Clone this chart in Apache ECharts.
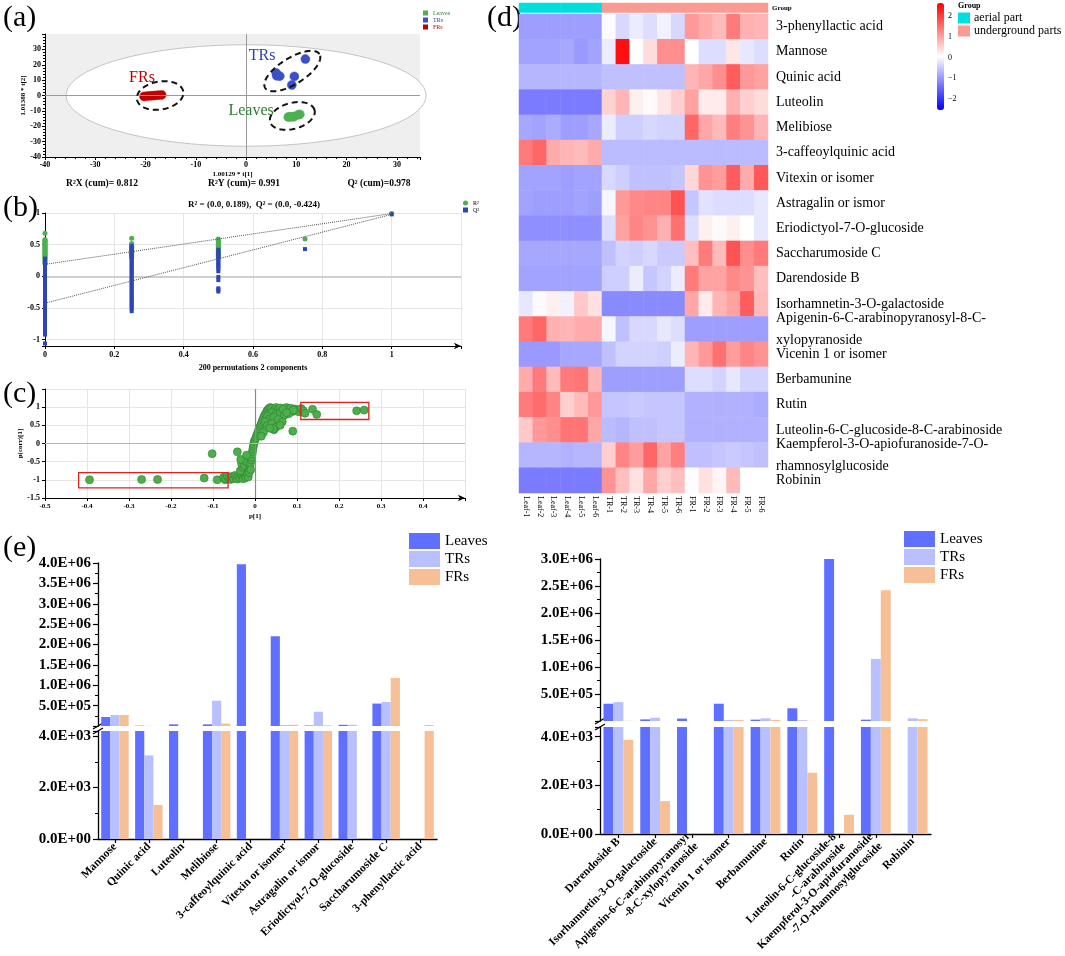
<!DOCTYPE html>
<html><head><meta charset="utf-8">
<script src="https://cdn.jsdelivr.net/npm/echarts@6/dist/echarts.min.js"></script>
<style>html,body{margin:0;padding:0;background:#fff}#c{width:1065px;height:956px}</style>
</head><body><div id="c"></div>
<script>
const SERIF = 'Liberation Serif';

// ---------- (a) PLS-DA score plot ----------
const scoreFRs = [[-20.3,-0.6],[-19.6,-0.4],[-18.9,-0.2],[-18.2,0.0],[-17.5,0.2],[-16.8,0.4]];
const scoreTRs = [[6.0,14.6],[6.1,12.8],[6.7,12.6],[9.6,12.4],[9.1,6.8],[11.8,23.7]];
const scoreLeaves = [[8.4,-14.0],[8.8,-13.8],[9.3,-13.9],[9.6,-13.6],[10.4,-12.5],[10.7,-12.3]];
const hotelling = [[0, 0, 35.8, 33]];
const clusterRingCenters = [[-17.1, 0.0], [9.2, 15.9], [9.2, -13.3]];
const clusterRingShape = [{a:23.5,b:14,rot:10},{a:32,b:13,rot:32},{a:23,b:13,rot:15}];
const clusterLabels = [
  {name:'FRs', value:[-20.7, 11.2], color:'#C00000'},
  {name:'TRs', value:[3.2, 25.5], color:'#2F3FB0'},
  {name:'Leaves', value:[1.0, -10.2], color:'#2E7D32'}
];
const r2X = 0.812, r2Y = 0.991, q2cum = 0.978;

// ---------- (b) permutation test ----------
const permX = [0, 0.25, 0.5, 0.75, 1];
const permR2 = [
  [0.68,0.58,0.57,0.56,0.54,0.53,0.51,0.5,0.48,0.47,0.45,0.44,0.42,0.41,0.39,0.38,0.36,0.35,0.33,0.32,0.3,0.29,0.27,0.25,0.23,0.21,0.2],
  [0.6,0.52,0.5,0.48,0.46,0.44,0.42,0.4,0.38,0.36,0.34,0.32,0.3],
  [0.59,0.57,0.55,0.53,0.51,0.49,0.47,0.45,0.43,0.41,0.39,0.37,0.35,0.33,0.31,0.29],
  [0.59],
  [0.991]
];
const permQ2 = [
  [0.28,0.26,0.24,0.22,0.2,0.18,0.16,0.14,0.12,0.1,0.08,0.06,0.04,0.02,0.0,-0.02,-0.04,-0.06,-0.08,-0.1,-0.12,-0.14,-0.16,-0.18,-0.2,-0.22,-0.24,-0.26,-0.28,-0.3,-0.32,-0.34,-0.36,-0.38,-0.4,-0.42,-0.44,-0.46,-0.48,-0.5,-0.52,-0.54,-0.56,-0.58,-0.6,-0.62,-0.64,-0.66,-0.68,-0.7,-0.72,-0.74,-0.76,-0.78,-0.8,-0.82,-0.84,-0.86,-0.88,-0.9,-0.92,-1.06],
  [0.48,0.45,0.42,0.39,0.36,0.33,0.3,0.27,0.24,0.21,0.18,0.15,0.12,0.09,0.06,0.03,0.0,-0.03,-0.06,-0.09,-0.12,-0.15,-0.18,-0.21,-0.24,-0.27,-0.3,-0.33,-0.36,-0.39,-0.42,-0.45,-0.48,-0.51,-0.55],
  [0.42,0.39,0.36,0.33,0.3,0.27,0.24,0.21,0.18,0.15,0.12,0.08,-0.01,-0.06,-0.19,-0.21,-0.24],
  [0.43],
  [0.978]
];
const r2Intercept = 0.189, q2Intercept = -0.424;

// ---------- (c) S-plot ----------
const sPlotPoints = [
  [-0.394,-1.0],[-0.27,-0.99],[-0.232,-0.99],[-0.121,-0.95],[-0.09,-1.0],[-0.071,-1.0],
  [-0.075,-0.93],[-0.07,-0.97],[-0.066,-0.9],[-0.062,-0.95],[-0.058,-0.99],[-0.055,-0.91],[-0.051,-0.96],
  [-0.048,-0.88],[-0.045,-0.93],[-0.042,-0.98],[-0.039,-0.9],[-0.036,-0.95],[-0.033,-0.86],[-0.03,-0.92],
  [-0.028,-0.97],[-0.026,-0.83],[-0.024,-0.89],[-0.022,-0.94],[-0.02,-0.78],[-0.018,-0.86],[-0.016,-0.92],
  [-0.015,-0.7],[-0.014,-0.8],[-0.035,-0.75],[-0.03,-0.65],[-0.032,-0.55],[-0.025,-0.6],[-0.028,-0.45],
  [-0.02,-0.5],[-0.012,-0.62],[-0.011,-0.55],[-0.01,-0.72],[-0.009,-0.45],[-0.008,-0.38],[-0.007,-0.3],
  [-0.006,-0.22],[-0.005,-0.15],[-0.004,-0.08],[-0.003,-0.02],[-0.002,0.05],[0.0,0.1],[0.002,0.16],
  [0.004,0.22],[0.006,0.28],[0.008,0.34],[0.01,0.4],[0.012,0.46],[0.014,0.52],[0.016,0.58],[0.018,0.64],
  [0.02,0.7],[0.022,0.76],[0.025,0.82],[0.028,0.88],[0.03,0.92],[0.033,0.96],[0.036,0.99],
  [0.04,0.97],[0.045,0.92],[0.05,0.99],[0.055,0.94],[0.06,0.98],[0.065,0.9],[0.07,0.96],[0.075,0.99],
  [0.08,0.93],[0.085,0.97],[0.09,0.88],[0.095,0.95],[0.1,0.92],[0.105,0.87],[0.11,0.96],[0.115,0.9],
  [0.04,0.85],[0.05,0.8],[0.06,0.84],[0.07,0.78],[0.08,0.82],[0.03,0.75],[0.035,0.68],[0.045,0.72],
  [0.055,0.66],[0.065,0.6],[0.025,0.6],[0.03,0.5],[0.04,0.55],[0.05,0.45],[0.06,0.5],[0.045,0.38],
  [0.044,0.4],[0.09,0.34],[0.035,0.42],[0.02,0.3],[0.015,0.2],
  [0.119,0.83],[0.137,0.94],[0.147,0.8],[0.091,0.92],[0.067,0.94],[0.075,0.85],[0.242,0.9],[0.26,0.92],
  [-0.102,-0.28],[-0.042,-0.23],[-0.034,-0.44],[-0.02,-0.32]
];
const sPlotBoxes = [[-0.42,-1.22,-0.064,-0.8],[0.109,0.66,0.271,1.13]];

// ---------- (d) heatmap ----------
const heatCols = ['Leaf-1','Leaf-2','Leaf-3','Leaf-4','Leaf-5','Leaf-6','TR-1','TR-2','TR-3','TR-4','TR-5','TR-6','FR-1','FR-2','FR-3','FR-4','FR-5','FR-6'];
const heatGroups = [0,0,0,0,0,0,1,1,1,1,1,1,1,1,1,1,1,1];
const groupNames = ['aerial part','underground parts'];
const heatRows = ['3-phenyllactic acid','Mannose','Quinic acid','Luteolin','Melibiose','3-caffeoylquinic acid','Vitexin or isomer','Astragalin or ismor','Eriodictyol-7-O-glucoside','Saccharumoside C','Darendoside B','Isorhamnetin-3-O-galactoside','Apigenin-6-C-arabinopyranosyl-8-C-\nxylopyranoside','Vicenin 1 or isomer','Berbamunine','Rutin','Luteolin-6-C-glucoside-8-C-arabinoside','Kaempferol-3-O-apiofuranoside-7-O-\nrhamnosylglucoside','Robinin'];
const heatValues = [
  [-0.95,-0.95,-0.95,-0.95,-0.95,-0.95, 0.0,-0.35,-0.15,-0.3,-0.1,-0.35, 1.1,0.9,0.75,1.4,0.85,0.8],
  [-0.9,-0.9,-0.9,-0.85,-1.0,-0.9, -0.15,2.5,0.05,0.4,1.2,1.2, 0.05,-0.3,-0.3,0.3,-0.2,-0.3],
  [-0.7,-0.7,-0.7,-0.7,-0.7,-0.7, -0.6,-0.6,-0.6,-0.6,-0.6,-0.6, 0.8,0.95,1.2,1.7,1.1,1.0],
  [-1.3,-1.3,-1.3,-1.3,-1.3,-1.3, 0.5,0.8,0.2,0.1,0.3,0.55, 1.0,0.25,0.25,0.85,0.55,0.4],
  [-0.85,-0.9,-0.8,-0.95,-0.95,-0.85, -0.15,-0.45,-0.45,-0.35,-0.4,-0.4, 1.6,0.95,0.75,1.35,1.15,0.8],
  [1.4,1.6,0.9,0.8,0.75,0.9, -0.65,-0.65,-0.65,-0.65,-0.65,-0.65, -0.65,-0.65,-0.65,-0.65,-0.65,-0.65],
  [-0.9,-0.9,-0.9,-0.95,-0.9,-0.9, -0.35,-0.45,-0.6,-0.6,-0.6,-0.55, 0.45,1.15,1.05,1.7,0.9,1.75],
  [-0.9,-0.95,-0.95,-0.95,-0.9,-0.95, -0.05,1.1,1.25,1.3,1.3,1.8, -0.55,-0.25,-0.3,-0.3,-0.3,-0.2],
  [-1.1,-1.1,-1.1,-1.1,-1.1,-1.1, -0.3,1.0,1.3,1.15,0.85,1.5, -0.3,0.2,0.1,0.2,0.05,-0.2],
  [-0.85,-0.85,-0.85,-0.85,-0.85,-0.85, -0.6,-0.4,-0.45,-0.35,-0.5,-0.5, 0.7,1.4,0.75,1.8,1.2,1.4],
  [-0.9,-0.9,-0.9,-0.9,-0.9,-0.9, -0.45,-0.45,-0.15,-0.55,-0.4,-0.15, 1.4,1.0,1.0,1.25,1.15,0.7],
  [-0.2,0.0,0.2,-0.1,0.6,0.35, -1.15,-1.15,-1.15,-1.15,-1.15,-1.15, 0.95,0.25,0.8,1.0,1.7,0.75],
  [1.4,1.6,0.85,0.8,0.9,0.9, -0.05,-0.6,-0.35,-0.35,-0.2,-0.3, -0.95,-0.95,-0.95,-0.95,-0.95,-0.95],
  [-1.0,-1.0,-1.0,-0.85,-0.85,-0.85, -0.6,-0.4,-0.4,-0.4,-0.45,-0.15, 0.8,1.1,1.5,1.05,1.3,1.15],
  [0.9,1.4,0.75,1.4,1.45,0.8, -0.95,-0.95,-0.95,-0.95,-0.95,-0.95, -0.3,-0.3,-0.4,-0.2,-0.4,-0.4],
  [1.4,1.55,1.3,0.55,0.75,1.1, -0.55,-0.55,-0.5,-0.55,-0.55,-0.55, -0.75,-0.75,-0.75,-0.75,-0.75,-0.8],
  [0.6,1.1,1.2,1.45,1.45,0.95, -0.65,-0.7,-0.6,-0.6,-0.55,-0.55, -0.75,-0.75,-0.75,-0.75,-0.75,-0.75],
  [-0.7,-0.7,-0.7,-0.75,-0.7,-0.7, 0.55,1.3,1.05,1.6,1.0,1.35, -0.6,-0.6,-0.55,-0.5,-0.55,-0.6],
  [-1.3,-1.3,-1.3,-1.3,-1.3,-1.3, 1.15,0.7,0.35,0.95,0.55,0.7, 0.02,0.35,0.15,0.75,0.05,0.05]
];
const heatMin = -2.56, heatMax = 2.65;
const colorbarTicks = [2, 1, 0, -1, -2];

// ---------- (e) bar charts ----------
const leftCats = ['Mannose','Quinic acid','Luteolin','Melibiose','3-caffeoylquinic acid','Vitexin or isomer','Astragalin or ismor','Eriodictyol-7-O-glucoside','Saccharumoside C','3-phenyllactic acid'];
const leftLeaves = [2.2e5, 8000, 4.0e4, 4.0e4, 3.97e6, 2.2e6, 12000, 3.0e4, 5.5e5, 0];
const leftTRs    = [2.7e5, 3250, 0, 6.2e5, 0, 2.5e4, 3.5e5, 3.0e4, 5.9e5, 0];
const leftFRs    = [2.7e5, 1320, 0, 6.0e4, 0, 3.0e4, 1.6e4, 0, 1.18e6, 2.5e4];
const rightCats = ['Darendoside B','Isorhamnetin-3-O-galactoside','Apigenin-6-C-arabinopyranosyl\n-8-C-xylopyranoside','Vicenin 1 or isomer','Berbamunine','Rutin','Luteolin-6-C-glucoside-8\n-C-arabinoside','Kaempferol-3-O-apiofuranoside\n-7-O-rhamnosylglucoside','Robinin'];
const rightLeaves = [3.2e5, 3.0e4, 4.5e4, 3.2e5, 2.5e4, 2.35e5, 3.0e6, 2.5e4, 0];
const rightTRs    = [3.5e5, 6.0e4, 0, 2.0e4, 5.0e4, 1.5e4, 0, 1.15e6, 5.0e4];
const rightFRs    = [3880, 1350, 0, 2.0e4, 2.0e4, 2520, 790, 2.42e6, 3.5e4];
const groupLabels = ['Leaves','TRs','FRs'];
const barColors = ['#5F6FFF','#B9C0FF','#F6BF95'];

// ---------- layout ----------
const G = {
  a:    {left:45,  top:34,  width:375, height:123},
  b:    {left:45,  top:213, width:416, height:133},
  c:    {left:45,  top:389, width:420, height:109},
  heat: {left:519, top:14,  width:249, height:479},
  grp:  {left:519, top:3,   width:249, height:9.5},
  eLU:  {left:98,  top:563, width:339, height:163},
  eLL:  {left:98,  top:731, width:339, height:108},
  eRU:  {left:600, top:559, width:331, height:162},
  eRL:  {left:600, top:727, width:331, height:107}
};
const gridKeys = ['a','b','c','heat','grp','eLU','eLL','eRU','eRL'];
const gi = k => gridKeys.indexOf(k);

function sci(v){
  const s = Number(v).toExponential(1).toUpperCase();
  return s.replace(/E([+-])(\d)$/, (m, sg, d) => 'E' + sg + '0' + d);
}
const tiny = {fontFamily:SERIF, fontSize:8, fontWeight:'bold', color:'#000'};
const blackLine = {show:true, onZero:false, lineStyle:{color:'#000', width:1}};
const blackTick = {show:true, length:3, lineStyle:{color:'#000'}};

const xAxes = [], yAxes = [];
// (a)
xAxes.push({gridIndex:0, type:'value', min:-40, max:34.6, interval:10, axisLine:blackLine, axisTick:blackTick,
  minorTick:{show:true, splitNumber:5, length:2, lineStyle:{color:'#000'}}, splitLine:{show:false},
  axisLabel:{...tiny, margin:4, formatter:v => (Math.abs(v % 10) < 1e-6 && v <= 30) ? String(v) : ''},
  name:'1.00129 * t[1]', nameLocation:'middle', nameGap:14, nameTextStyle:{fontFamily:SERIF, fontSize:7, fontWeight:'bold', color:'#000'}});
yAxes.push({gridIndex:0, type:'value', min:-40, max:40, interval:10, axisLine:blackLine, axisTick:blackTick,
  minorTick:{show:true, splitNumber:5, length:2, lineStyle:{color:'#000'}}, splitLine:{show:false},
  axisLabel:{...tiny, margin:4, formatter:v => v <= 30 ? String(v) : ''},
  name:'1.01388 * t[2]', nameLocation:'middle', nameGap:17, nameTextStyle:{fontFamily:SERIF, fontSize:7, fontWeight:'bold', color:'#000'}});
// (b)
xAxes.push({gridIndex:1, type:'value', min:0, max:1.2, interval:0.2,
  axisLine:{...blackLine, symbol:['none','arrow'], symbolSize:[5,7]}, axisTick:blackTick,
  splitLine:{show:true, lineStyle:{color:'#e6e6e6'}},
  axisLabel:{...tiny, margin:5, formatter:v => v <= 1.0001 ? String(+v.toFixed(1)) : ''},
  name:'200 permutations 2 components', nameLocation:'middle', nameGap:18, nameTextStyle:{fontFamily:SERIF, fontSize:8, fontWeight:'bold', color:'#000'}});
yAxes.push({gridIndex:1, type:'value', min:-1.1, max:1.0,
  axisLine:blackLine, axisTick:blackTick, splitLine:{show:true, lineStyle:{color:'#e6e6e6'}},
  axisLabel:{...tiny, margin:5, formatter:v => Math.abs(v*2 - Math.round(v*2)) < 1e-6 ? String(+v.toFixed(1)) : ''}});
// (c)
xAxes.push({gridIndex:2, type:'value', min:-0.5, max:0.5, interval:0.1,
  axisLine:{...blackLine, symbol:['none','arrow'], symbolSize:[5,7]}, axisTick:blackTick,
  splitLine:{show:true, lineStyle:{color:'#e6e6e6'}},
  axisLabel:{...tiny, fontSize:7, margin:5, formatter:v => v < 0.45 ? String(+v.toFixed(1)) : ''},
  name:'p[1]', nameLocation:'middle', nameGap:15, nameTextStyle:{fontFamily:SERIF, fontSize:7, fontWeight:'bold', color:'#000'}});
yAxes.push({gridIndex:2, type:'value', min:-1.5, max:1.5, interval:0.5,
  axisLine:blackLine, axisTick:blackTick, splitLine:{show:true, lineStyle:{color:'#e6e6e6'}},
  axisLabel:{...tiny, margin:5, formatter:v => v < 1.25 ? String(+v.toFixed(1)) : ''},
  name:'p(corr)[1]', nameLocation:'middle', nameGap:18, nameTextStyle:{fontFamily:SERIF, fontSize:7, fontWeight:'bold', color:'#000'}});
// (d) heatmap
xAxes.push({gridIndex:3, type:'category', data:heatCols, axisLine:{show:false}, axisTick:{show:false}, splitLine:{show:false},
  axisLabel:{fontFamily:SERIF, fontSize:8, color:'#000', rotate:-90, margin:3, interval:0}});
yAxes.push({gridIndex:3, type:'category', data:heatRows, inverse:true, position:'right', axisLine:{show:false}, axisTick:{show:false}, splitLine:{show:false},
  axisLabel:{fontFamily:SERIF, fontSize:14, color:'#000', margin:8, lineHeight:22, interval:0}});
xAxes.push({gridIndex:4, type:'category', data:heatCols, show:false});
yAxes.push({gridIndex:4, type:'category', data:['Group'], position:'right', axisLine:{show:false}, axisTick:{show:false},
  axisLabel:{fontFamily:SERIF, fontSize:7, fontWeight:'bold', color:'#000', margin:4}});
// (e)
function upperY(idx, max){
  return {gridIndex:idx, type:'value', min:0, max:max, interval:5e5,
    axisLine:{show:true, lineStyle:{color:'#000', width:1.3}}, axisTick:{show:true, length:5, lineStyle:{color:'#000', width:1.2}},
    minorTick:{show:true, splitNumber:2, length:3, lineStyle:{color:'#000', width:1}}, splitLine:{show:false},
    axisLabel:{fontFamily:SERIF, fontSize:15, fontWeight:'bold', color:'#000', margin:7, formatter:v => v > 0 ? sci(v) : ''}};
}
function lowerY(idx, max){
  return {gridIndex:idx, type:'value', min:0, max:max, interval:2000,
    axisLine:{show:true, lineStyle:{color:'#000', width:1.3}}, axisTick:{show:true, length:5, lineStyle:{color:'#000', width:1.2}},
    minorTick:{show:true, splitNumber:2, length:3, lineStyle:{color:'#000', width:1}}, splitLine:{show:false},
    axisLabel:{fontFamily:SERIF, fontSize:15, fontWeight:'bold', color:'#000', margin:7, formatter:v => (v % 2000 === 0) ? sci(v) : ''}};
}
function lowerX(idx, cats){
  return {gridIndex:idx, type:'category', data:cats,
    axisLine:{show:true, lineStyle:{color:'#000', width:1.3}}, axisTick:{show:true, alignWithLabel:true, length:4, lineStyle:{color:'#000', width:1.2}},
    axisLabel:{fontFamily:SERIF, fontSize:11.5, fontWeight:'bold', color:'#000', rotate:45, margin:6, interval:0, lineHeight:13}};
}
xAxes.push({gridIndex:5, type:'category', data:leftCats, show:false});
yAxes.push(upperY(5, 4e6));
xAxes.push(lowerX(6, leftCats));
yAxes.push(lowerY(6, 4200));
xAxes.push({gridIndex:7, type:'category', data:rightCats, show:false});
yAxes.push(upperY(7, 3e6));
xAxes.push(lowerX(8, rightCats));
yAxes.push(lowerY(8, 4400));

// ---------- series ----------
const series = [];
function bars(gridKey, vals){
  vals.forEach((arr, k) => series.push({type:'bar', name:groupLabels[k], xAxisIndex:gi(gridKey), yAxisIndex:gi(gridKey),
    data:arr, barGap:'0%', barCategoryGap:'19%', clip:true, itemStyle:{color:barColors[k]}, z:3}));
}
bars('eLU', [leftLeaves, leftTRs, leftFRs]);
bars('eLL', [leftLeaves, leftTRs, leftFRs]);
bars('eRU', [rightLeaves, rightTRs, rightFRs]);
bars('eRL', [rightLeaves, rightTRs, rightFRs]);

// (a)
series.push({type:'custom', name:'hotelling', xAxisIndex:0, yAxisIndex:0, z:1, silent:true, data:hotelling,
  renderItem:(p, api) => {
    const c = api.coord([api.value(0), api.value(1)]);
    const s = api.size([api.value(2), api.value(3)]);
    const pts = [];
    for (let i = 0; i <= 120; i++){ const t = i/120*2*Math.PI; pts.push([c[0]+s[0]*Math.cos(t), c[1]+s[1]*Math.sin(t)]); }
    return {type:'polygon', shape:{points:pts}, style:{fill:'#fff', stroke:'#c4c4c4', lineWidth:1}};
  }});
series.push({type:'scatter', name:'zeroA', xAxisIndex:0, yAxisIndex:0, data:[], z:2,
  markLine:{silent:true, symbol:['none','none'], label:{show:false}, animation:false,
    lineStyle:{color:'#9a9a9a', width:1, type:'solid'}, data:[{xAxis:0},{yAxis:0}]}});
[['FRs', scoreFRs, '#C00000'], ['TRs', scoreTRs, '#3B50C8'], ['Leaves', scoreLeaves, '#4CB050']].forEach(([n, d, col]) => {
  series.push({type:'scatter', name:n, xAxisIndex:0, yAxisIndex:0, data:d, symbolSize:9, z:4,
    itemStyle:{color:col, borderColor:col, borderWidth:0.5, opacity:1}});
});
series.push({type:'custom', name:'rings', xAxisIndex:0, yAxisIndex:0, z:5, silent:true, data:clusterRingCenters,
  renderItem:(p, api) => {
    const c = api.coord([api.value(0), api.value(1)]);
    const sh = clusterRingShape[p.dataIndex];
    const th = sh.rot * Math.PI / 180;
    const pts = [];
    for (let i = 0; i <= 120; i++){
      const t = i/120*2*Math.PI;
      const ex = sh.a*Math.cos(t), ey = sh.b*Math.sin(t);
      pts.push([c[0] + ex*Math.cos(th) - ey*Math.sin(th), c[1] - (ex*Math.sin(th) + ey*Math.cos(th))]);
    }
    return {type:'polyline', shape:{points:pts}, style:{fill:null, stroke:'#111', lineWidth:2, lineDash:[6,4]}};
  }});
series.push({type:'scatter', name:'clusterText', xAxisIndex:0, yAxisIndex:0, symbolSize:0, z:6, silent:true,
  itemStyle:{opacity:1},
  data:clusterLabels.map(l => ({name:l.name, value:l.value, label:{color:l.color}})),
  label:{show:true, position:'inside', formatter:'{b}', fontFamily:SERIF, fontSize:16, opacity:1}});

// (b)
const r2Pts = [], q2Pts = [];
permX.forEach((x, i) => { permR2[i].forEach(v => r2Pts.push([x, v])); permQ2[i].forEach(v => q2Pts.push([x, v])); });
series.push({type:'scatter', name:'R²', xAxisIndex:1, yAxisIndex:1, data:r2Pts, symbol:'circle', symbolSize:5, z:4,
  itemStyle:{color:'#4CAF50', opacity:1},
  markLine:{silent:true, symbol:['none','none'], label:{show:false}, animation:false,
    lineStyle:{color:'#cfcfcf', width:2, type:'solid'}, data:[{yAxis:0}]}});
series.push({type:'scatter', name:'Q²', xAxisIndex:1, yAxisIndex:1, data:q2Pts, symbol:'rect', symbolSize:4, z:5,
  itemStyle:{color:'#2E45B8', opacity:1}});
series.push({type:'line', name:'r2line', xAxisIndex:1, yAxisIndex:1, data:[[0, r2Intercept],[1, r2Y]], symbol:'none', z:6,
  lineStyle:{color:'#555', width:1, type:'dotted'}});
series.push({type:'line', name:'q2line', xAxisIndex:1, yAxisIndex:1, data:[[0, q2Intercept],[1, q2cum]], symbol:'none', z:6,
  lineStyle:{color:'#555', width:1, type:'dotted'}});

// (c)
series.push({type:'scatter', name:'splot', xAxisIndex:2, yAxisIndex:2, data:sPlotPoints, symbolSize:8, z:4,
  itemStyle:{color:'#4CAF4A', borderColor:'#2E7D32', borderWidth:0.6, opacity:1},
  markLine:{silent:true, symbol:['none','none'], label:{show:false}, animation:false,
    data:[{xAxis:0, lineStyle:{color:'#8a8a8a', width:1.2, type:'solid'}}, {yAxis:0, lineStyle:{color:'#b5b5b5', width:1.2, type:'solid'}}]}});
series.push({type:'custom', name:'boxes', xAxisIndex:2, yAxisIndex:2, z:6, silent:true, data:sPlotBoxes,
  renderItem:(p, api) => {
    const a = api.coord([api.value(0), api.value(1)]);
    const b = api.coord([api.value(2), api.value(3)]);
    return {type:'rect', shape:{x:Math.min(a[0],b[0]), y:Math.min(a[1],b[1]), width:Math.abs(b[0]-a[0]), height:Math.abs(b[1]-a[1])},
      style:{fill:null, stroke:'#E02020', lineWidth:1.3}};
  }});

// (d)
const heatData = [];
heatValues.forEach((row, r) => row.forEach((v, c) => heatData.push([c, r, v])));
const heatIdx = series.length;
series.push({type:'heatmap', name:'heat', xAxisIndex:3, yAxisIndex:3, data:heatData, itemStyle:{borderWidth:0}});
const grpIdx = series.length;
series.push({type:'heatmap', name:'groupbar', xAxisIndex:4, yAxisIndex:4, data:heatGroups.map((g, c) => [c, 0, g])});

// ---------- graphics ----------
const graphics = [];
function txt(x, y, text, opt){
  graphics.push({type:'text', x:x, y:y, silent:true,
    style:Object.assign({text:text, fill:'#000', font:'14px ' + SERIF, textAlign:'left', textVerticalAlign:'middle'}, opt || {})});
}
txt(3, 18, '(a)', {font:'30px ' + SERIF});
txt(3, 208, '(b)', {font:'30px ' + SERIF});
txt(3, 394, '(c)', {font:'30px ' + SERIF});
txt(487, 18, '(d)', {font:'30px ' + SERIF});
txt(3, 548, '(e)', {font:'30px ' + SERIF});
txt(102, 184, 'R²X (cum)= ' + r2X.toFixed(3), {font:'bold 9.5px ' + SERIF, textAlign:'center'});
txt(244, 184, 'R²Y (cum)= ' + r2Y.toFixed(3), {font:'bold 9.5px ' + SERIF, textAlign:'center'});
txt(379, 184, 'Q² (cum)=' + q2cum.toFixed(3), {font:'bold 9.5px ' + SERIF, textAlign:'center'});
txt(254, 205, 'R² = (0.0, ' + r2Intercept + '),  Q² = (0.0, ' + q2Intercept + ')', {font:'bold 9px ' + SERIF, textAlign:'center'});
txt(958, 6, 'Group', {font:'bold 8px ' + SERIF});
const cbTop = 3, cbH = 107;
colorbarTicks.forEach(v => {
  const y = cbTop + (heatMax - v) / (heatMax - heatMin) * cbH;
  txt(948, y, v < 0 ? '\u2212' + Math.abs(v) : String(v), {font:'8px ' + SERIF});
});
// axis break marks
function breakMark(x, yUp, yLo){
  [yUp, yLo].forEach(y => graphics.push({type:'line', silent:true, shape:{x1:x-5, y1:y+3, x2:x+5, y2:y-3}, style:{stroke:'#000', lineWidth:1.2}}));
}
breakMark(G.eLU.left, G.eLU.top + G.eLU.height, G.eLL.top);
breakMark(G.eRU.left, G.eRU.top + G.eRU.height, G.eRL.top);

// ---------- option ----------
const option = {
  animation:false,
  backgroundColor:'#fff',
  textStyle:{fontFamily:SERIF},
  grid: gridKeys.map(k => Object.assign({containLabel:false, outerBoundsMode:'none'}, G[k],
    k === 'a' ? {show:true, backgroundColor:'#efefef', borderWidth:0} : {})),
  xAxis: xAxes,
  yAxis: yAxes,
  legend: [
    {left:409, top:533, orient:'vertical', itemWidth:31, itemHeight:16, itemGap:2, padding:0, icon:'rect',
      data:groupLabels, textStyle:{fontFamily:SERIF, fontSize:15, color:'#000', lineHeight:16}, selectedMode:false},
    {left:904, top:531, orient:'vertical', itemWidth:31, itemHeight:16, itemGap:2, padding:0, icon:'rect',
      data:groupLabels, textStyle:{fontFamily:SERIF, fontSize:15, color:'#000', lineHeight:16}, selectedMode:false},
    {left:423, top:10, orient:'vertical', itemWidth:5, itemHeight:5, itemGap:1, padding:0, icon:'rect', selectedMode:false,
      textStyle:{fontFamily:SERIF, fontSize:6, lineHeight:6},
      data:[{name:'Leaves', itemStyle:{color:'#4CB050'}, textStyle:{color:'#2E7D32'}},
            {name:'TRs', itemStyle:{color:'#3B50C8'}, textStyle:{color:'#2F3FB0'}},
            {name:'FRs', itemStyle:{color:'#C00000'}, textStyle:{color:'#C00000'}}]},
    {left:463, top:200, orient:'vertical', itemWidth:5, itemHeight:5, itemGap:1, padding:0, selectedMode:false,
      textStyle:{fontFamily:SERIF, fontSize:6, lineHeight:6, color:'#000'},
      data:[{name:'R²', icon:'circle'}, {name:'Q²', icon:'rect'}]}
  ],
  visualMap: [
    {type:'continuous', seriesIndex:heatIdx, min:heatMin, max:heatMax, calculable:false, left:937, top:cbTop,
      itemWidth:7, itemHeight:cbH, padding:0, dimension:2, inRange:{color:['#0000FF','#FFFFFF','#FF0000']}},
    {type:'piecewise', seriesIndex:grpIdx, dimension:2, left:958, top:12, orient:'vertical', inverse:true, align:'left',
      itemWidth:12, itemHeight:11, itemGap:1, itemSymbol:'rect', padding:0, selectedMode:false, textGap:4,
      textStyle:{fontFamily:SERIF, fontSize:12, color:'#000', lineHeight:11},
      pieces:[{value:0, label:groupNames[0], color:'#00DEDE'}, {value:1, label:groupNames[1], color:'#FA9A93'}]}
  ],
  series: series,
  graphic: {elements: graphics}
};
const chart = echarts.init(document.getElementById('c'), null, {width:1065, height:956});
chart.setOption(option);
</script>
</body></html>
